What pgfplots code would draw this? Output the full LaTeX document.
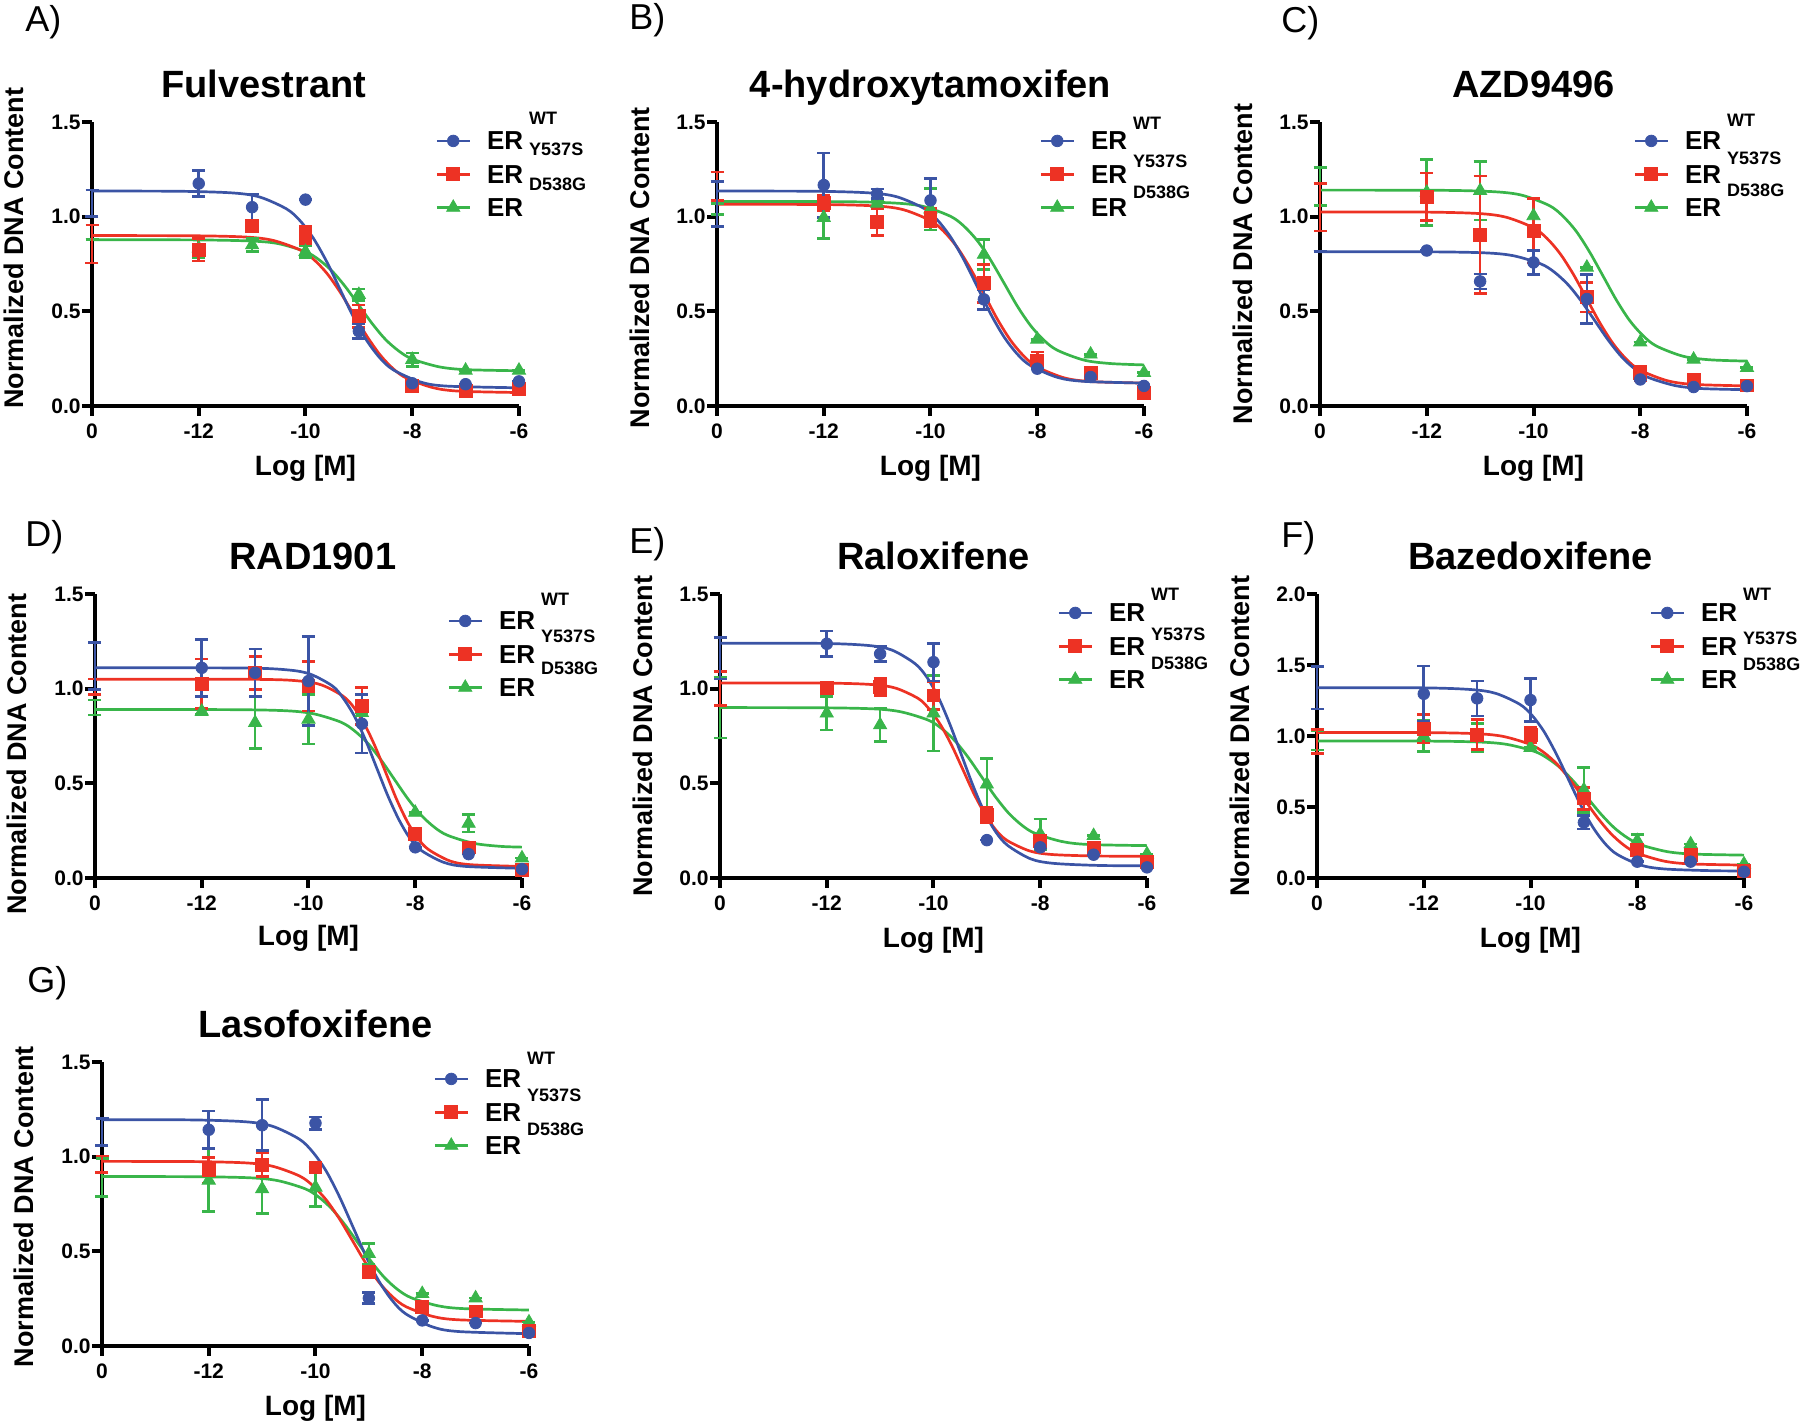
\documentclass[border=0pt]{standalone}
\usepackage{pgfplots}
\pgfplotsset{compat=1.18}
\usepackage{fontspec}
\setmainfont{Liberation Sans}

\definecolor{cblue}{RGB}{59,84,165}
\definecolor{cred}{RGB}{237,50,36}
\definecolor{cgreen}{RGB}{57,181,74}

% raised/lowered label next to "ER", takes no room in the legend
\newcommand{\sups}[2]{\smash{\rlap{\kern3pt\raisebox{#1}{\fontsize{9}{9}\selectfont #2}}}}

\pgfplotsset{
  panel/.style={
    scale only axis, width=213.5pt, height=142pt, anchor=south west,
    xmin=-14, xmax=-6, ymin=0, ymax=1.5,
    xtick={-14,-12,-10,-8,-6}, xticklabels={0,-12,-10,-8,-6},
    ytick={0,0.5,1,1.5},
    axis x line*=bottom, axis y line*=left,
    axis line style={line width=2pt, -},
    tick style={line width=2pt, black},
    tick align=outside, major tick length=5pt,
    clip=false,
    /pgf/number format/assume math mode=true,
    tick label style={font=\bfseries\fontsize{10.5}{10.5}\selectfont},
    xticklabel style={inner sep=0pt, yshift=-3.5pt},
    yticklabel style={inner sep=0pt, xshift=-0.5pt,
      /pgf/number format/.cd, fixed, fixed zerofill, precision=1},
    xlabel={Log [M]}, ylabel={Normalized DNA Content},
    every axis title/.style={at={(0.5,1)}, anchor=base, yshift=12pt,
      font=\bfseries\fontsize{19}{19}\selectfont},
    every axis x label/.style={at={(0.5,0)}, anchor=base, yshift=-35pt,
      font=\bfseries\fontsize{14}{14}\selectfont},
    every axis y label/.style={at={(0,0.5)}, xshift=-34pt, rotate=90, anchor=base,
      font=\bfseries\fontsize{13.5}{13.5}\selectfont},
    legend style={draw=none, fill=none, at={(0,0)}, anchor=north west,
      inner sep=0pt, row sep=7.7pt, column sep=8pt,
      font=\bfseries\fontsize{13}{13}\selectfont,
      nodes={inner sep=0pt, text depth=0pt}},
    legend cell align=left,
    legend image code/.code={\draw[mark repeat=2,mark phase=2]
      plot coordinates {(0pt,0pt) (8.25pt,0pt) (16.5pt,0pt)};},
  },
  cb/.style={cblue, mark=*, mark size=2.9pt, mark options={line width=0.4pt}},
  cr/.style={cred, mark=square*, mark size=3.2pt, mark options={line width=0.4pt}},
  cg/.style={cgreen, mark=triangle*, mark size=3.8pt, mark options={line width=0.4pt}},
  fit/.style={line width=1.35pt, smooth, mark=none, forget plot},
  pts/.style={only marks, forget plot, mark indices={2,3,4,5,6,7,8},
    error bars/.cd, y dir=both, y explicit,
    error bar style={line width=1.3pt},
    error mark options={rotate=90, line width=1.3pt, mark size=3.25pt}},
}

\newcommand{\erlegend}[3]{%
  \addlegendimage{cb, line width=1.35pt}
  \addlegendentry{ER\sups{#1}{WT}\sups{#2}{Y537S}}
  \addlegendimage{cr, line width=1.35pt}
  \addlegendentry{ER\sups{#3}{D538G}}
  \addlegendimage{cg, line width=1.35pt}
  \addlegendentry{ER}}

\begin{document}
\begin{tikzpicture}
\useasboundingbox (0,0) rectangle (900pt,711.5pt);

\node[anchor=base west, inner sep=0pt, font=\fontsize{18}{18}\selectfont] at (12.5pt,695.5pt) {A)};
\node[anchor=base west, inner sep=0pt, font=\fontsize{18}{18}\selectfont] at (314.5pt,696.5pt) {B)};
\node[anchor=base west, inner sep=0pt, font=\fontsize{18}{18}\selectfont] at (640.5pt,695pt) {C)};
\node[anchor=base west, inner sep=0pt, font=\fontsize{18}{18}\selectfont] at (12.5pt,438pt) {D)};
\node[anchor=base west, inner sep=0pt, font=\fontsize{18}{18}\selectfont] at (314.5pt,434.5pt) {E)};
\node[anchor=base west, inner sep=0pt, font=\fontsize{18}{18}\selectfont] at (640.5pt,437.5pt) {F)};
\node[anchor=base west, inner sep=0pt, font=\fontsize{18}{18}\selectfont] at (13.5pt,215pt) {G)};

% ---------------- A) Fulvestrant
\begin{axis}[panel, at={(46pt,508.5pt)}, title={Fulvestrant},
  title style={at={(0.402,1)}}, ylabel style={at={(0,0.556)}},
  legend style={xshift=171.5pt, yshift=137.2pt}]
\erlegend{12.9pt}{-2.8pt}{-3.6pt}
\addplot[cgreen, fit] coordinates {(-14,0.878) (-12,0.877) (-11,0.871) (-10.5,0.857) (-10,0.815) (-9.75,0.773) (-9.5,0.712) (-9.25,0.629) (-9,0.532) (-8.75,0.435) (-8.5,0.351) (-8.25,0.290) (-8,0.248) (-7.5,0.207) (-7,0.192) (-6,0.186)};
\addplot[cred, fit] coordinates {(-14,0.900) (-12.1,0.899) (-11.1,0.892) (-10.6,0.874) (-10.1,0.824) (-9.85,0.775) (-9.6,0.701) (-9.35,0.601) (-9.1,0.485) (-8.85,0.369) (-8.6,0.269) (-8.35,0.195) (-8.1,0.146) (-7.6,0.096) (-7.1,0.078) (-6,0.071)};
\addplot[cblue, fit] coordinates {(-14,1.135) (-12.35,1.134) (-11.35,1.125) (-10.85,1.103) (-10.35,1.040) (-10.1,0.978) (-9.85,0.885) (-9.6,0.761) (-9.35,0.615) (-9.1,0.469) (-8.85,0.345) (-8.6,0.252) (-8.35,0.190) (-7.85,0.127) (-7.35,0.105) (-6,0.096)};
\addplot[cg, pts] coordinates {(-14,0.878) +- (0,0) (-12,0.833) +- (0,0.05) (-11,0.85) +- (0,0.035) (-10,0.815) +- (0,0.03) (-9,0.588) +- (0,0.03) (-8,0.245) +- (0,0.035) (-7,0.188) +- (0,0) (-6,0.188) +- (0,0)};
\addplot[cr, pts] coordinates {(-14,0.856) +- (0,0.1) (-12,0.825) +- (0,0.06) (-11,0.95) +- (0,0.03) (-10,0.904) +- (0,0.045) (-9,0.474) +- (0,0.06) (-8,0.105) +- (0,0) (-7,0.08) +- (0,0) (-6,0.09) +- (0,0)};
\addplot[cb, pts] coordinates {(-14,1.07) +- (0,0.07) (-12,1.175) +- (0,0.07) (-11,1.05) +- (0,0.07) (-10,1.09) +- (0,0) (-9,0.395) +- (0,0.04) (-8,0.12) +- (0,0) (-7,0.115) +- (0,0) (-6,0.13) +- (0,0)};
\end{axis}

% ---------------- B) 4-hydroxytamoxifen
\begin{axis}[panel, at={(358.5pt,508.5pt)}, title={4-hydroxytamoxifen},
  ylabel style={at={(0,0.486)}},
  legend style={xshift=161pt, yshift=137.2pt}]
\erlegend{10.4pt}{-8.6pt}{-7.6pt}
\addplot[cgreen, fit] coordinates {(-14,1.080) (-11.62,1.079) (-10.62,1.071) (-10.12,1.053) (-9.62,1.001) (-9.37,0.949) (-9.12,0.872) (-8.87,0.769) (-8.62,0.648) (-8.37,0.526) (-8.12,0.423) (-7.87,0.346) (-7.62,0.294) (-7.12,0.242) (-6.62,0.224) (-6,0.217)};
\addplot[cred, fit] coordinates {(-14,1.065) (-12,1.064) (-11,1.056) (-10.5,1.036) (-10,0.979) (-9.75,0.922) (-9.5,0.838) (-9.25,0.725) (-9,0.593) (-8.75,0.460) (-8.5,0.347) (-8.25,0.263) (-8,0.206) (-7.5,0.149) (-7,0.129) (-6,0.121)};
\addplot[cblue, fit] coordinates {(-14,1.135) (-12.12,1.134) (-11.12,1.125) (-10.62,1.104) (-10.12,1.043) (-9.87,0.982) (-9.62,0.891) (-9.37,0.770) (-9.12,0.628) (-8.87,0.485) (-8.62,0.364) (-8.37,0.273) (-8.12,0.212) (-7.62,0.151) (-7.12,0.130) (-6,0.121)};
\addplot[cg, pts] coordinates {(-14,1.04) +- (0,0.03) (-12,0.995) +- (0,0.11) (-11,1.07) +- (0,0.02) (-10,1.04) +- (0,0.11) (-9,0.80) +- (0,0.08) (-8,0.352) +- (0,0) (-7,0.273) +- (0,0) (-6,0.176) +- (0,0)};
\addplot[cr, pts] coordinates {(-14,1.16) +- (0,0.076) (-12,1.074) +- (0,0.04) (-11,0.972) +- (0,0.07) (-10,0.995) +- (0,0.047) (-9,0.648) +- (0,0.1) (-8,0.241) +- (0,0.045) (-7,0.176) +- (0,0) (-6,0.07) +- (0,0)};
\addplot[cb, pts] coordinates {(-14,1.067) +- (0,0.12) (-12,1.167) +- (0,0.17) (-11,1.12) +- (0,0.025) (-10,1.086) +- (0,0.115) (-9,0.563) +- (0,0.053) (-8,0.197) +- (0,0) (-7,0.153) +- (0,0) (-6,0.106) +- (0,0)};
\end{axis}

% ---------------- C) AZD9496
\begin{axis}[panel, at={(660pt,508.5pt)}, title={AZD9496},
  legend style={xshift=156.5pt, yshift=137.2pt}]
\erlegend{11.9pt}{-7.1pt}{-6.6pt}
\addplot[cgreen, fit] coordinates {(-14,1.140) (-11.7,1.139) (-10.7,1.131) (-10.2,1.112) (-9.7,1.058) (-9.45,1.003) (-9.2,0.923) (-8.95,0.814) (-8.7,0.688) (-8.45,0.561) (-8.2,0.452) (-7.95,0.372) (-7.7,0.317) (-7.2,0.263) (-6.7,0.244) (-6,0.237)};
\addplot[cred, fit] coordinates {(-14,1.025) (-12,1.024) (-11,1.016) (-10.5,0.996) (-10,0.941) (-9.75,0.886) (-9.5,0.804) (-9.25,0.694) (-9,0.565) (-8.75,0.436) (-8.5,0.326) (-8.25,0.244) (-8,0.189) (-7.5,0.134) (-7,0.114) (-6,0.106)};
\addplot[cblue, fit] coordinates {(-14,0.815) (-11.85,0.814) (-10.85,0.808) (-10.35,0.792) (-9.85,0.749) (-9.6,0.705) (-9.35,0.640) (-9.1,0.552) (-8.85,0.450) (-8.6,0.348) (-8.35,0.260) (-8.1,0.195) (-7.85,0.151) (-7.35,0.108) (-6.85,0.092) (-6,0.086)};
\addplot[cg, pts] coordinates {(-14,1.16) +- (0,0.1) (-12,1.128) +- (0,0.175) (-11,1.137) +- (0,0.155) (-10,1.004) +- (0,0.09) (-9,0.732) +- (0,0) (-8,0.337) +- (0,0) (-7,0.246) +- (0,0) (-6,0.202) +- (0,0)};
\addplot[cr, pts] coordinates {(-14,1.05) +- (0,0.125) (-12,1.105) +- (0,0.125) (-11,0.904) +- (0,0.31) (-10,0.925) +- (0,0.17) (-9,0.575) +- (0,0.078) (-8,0.172) +- (0,0.04) (-7,0.137) +- (0,0) (-6,0.109) +- (0,0)};
\addplot[cb, pts] coordinates {(-14,0.815) +- (0,0) (-12,0.821) +- (0,0) (-11,0.658) +- (0,0.04) (-10,0.758) +- (0,0.062) (-9,0.565) +- (0,0.13) (-8,0.14) +- (0,0) (-7,0.10) +- (0,0) (-6,0.105) +- (0,0)};
\end{axis}

% ---------------- D) RAD1901
\begin{axis}[panel, at={(47.5pt,272.5pt)}, title={RAD1901},
  title style={at={(0.51,1)}}, ylabel style={at={(0,0.447)}, xshift=-1.5pt},
  xlabel style={yshift=1pt},
  legend style={xshift=176pt, yshift=133.2pt}]
\erlegend{12.4pt}{-6.3pt}{-5.6pt}
\addplot[cgreen, fit] coordinates {(-14,0.890) (-11.4,0.889) (-10.4,0.883) (-9.9,0.867) (-9.4,0.824) (-9.15,0.780) (-8.9,0.715) (-8.65,0.627) (-8.4,0.525) (-8.15,0.423) (-7.9,0.335) (-7.65,0.270) (-7.4,0.226) (-6.9,0.183) (-6.4,0.167) (-6,0.163)};
\addplot[cred, fit] coordinates {(-14,1.050) (-10.95,1.049) (-10.15,1.040) (-9.75,1.019) (-9.35,0.960) (-9.15,0.901) (-8.95,0.812) (-8.75,0.694) (-8.55,0.555) (-8.35,0.416) (-8.15,0.298) (-7.95,0.209) (-7.75,0.150) (-7.35,0.090) (-6.95,0.070) (-6,0.061)};
\addplot[cblue, fit] coordinates {(-14,1.110) (-11.22,1.109) (-10.39,1.099) (-9.97,1.077) (-9.55,1.014) (-9.35,0.950) (-9.14,0.855) (-8.93,0.728) (-8.72,0.580) (-8.51,0.432) (-8.30,0.305) (-8.10,0.210) (-7.89,0.146) (-7.47,0.083) (-7.05,0.061) (-6,0.051)};
\addplot[cg, pts] coordinates {(-14,0.90) +- (0,0.04) (-12,0.88) +- (0,0.015) (-11,0.82) +- (0,0.135) (-10,0.838) +- (0,0.13) (-9,0.873) +- (0,0) (-8,0.346) +- (0,0) (-7,0.288) +- (0,0.046) (-6,0.105) +- (0,0)};
\addplot[cr, pts] coordinates {(-14,1.01) +- (0,0.04) (-12,1.026) +- (0,0.13) (-11,1.083) +- (0,0.088) (-10,1.013) +- (0,0.13) (-9,0.908) +- (0,0.097) (-8,0.232) +- (0,0) (-7,0.162) +- (0,0) (-6,0.042) +- (0,0)};
\addplot[cb, pts] coordinates {(-14,1.12) +- (0,0.125) (-12,1.11) +- (0,0.15) (-11,1.084) +- (0,0.125) (-10,1.04) +- (0,0.235) (-9,0.815) +- (0,0.155) (-8,0.162) +- (0,0) (-7,0.126) +- (0,0) (-6,0.047) +- (0,0)};
\end{axis}

% ---------------- E) Raloxifene
\begin{axis}[panel, at={(360pt,272.5pt)}, title={Raloxifene},
  legend style={xshift=168.5pt, yshift=137.2pt}]
\erlegend{10.9pt}{-9.1pt}{-7.1pt}
\addplot[cgreen, fit] coordinates {(-14,0.900) (-12.1,0.899) (-11.1,0.893) (-10.6,0.877) (-10.1,0.834) (-9.85,0.790) (-9.6,0.725) (-9.35,0.637) (-9.1,0.535) (-8.85,0.433) (-8.6,0.345) (-8.35,0.280) (-8.1,0.236) (-7.6,0.193) (-7.1,0.177) (-6,0.171)};
\addplot[cred, fit] coordinates {(-14,1.030) (-11.95,1.029) (-11.12,1.021) (-10.70,1.002) (-10.28,0.947) (-10.08,0.892) (-9.87,0.810) (-9.66,0.701) (-9.45,0.573) (-9.24,0.444) (-9.03,0.335) (-8.83,0.253) (-8.62,0.198) (-8.20,0.143) (-7.78,0.124) (-6.95,0.116) (-6,0.115)};
\addplot[cblue, fit] coordinates {(-14,1.240) (-12.09,1.239) (-11.22,1.228) (-10.78,1.204) (-10.35,1.133) (-10.13,1.063) (-9.915,0.958) (-9.70,0.817) (-9.48,0.653) (-9.26,0.488) (-9.045,0.347) (-8.83,0.242) (-8.61,0.172) (-8.18,0.101) (-7.74,0.077) (-6.87,0.066) (-6,0.065)};
\addplot[cg, pts] coordinates {(-14,0.90) +- (0,0.16) (-12,0.87) +- (0,0.088) (-11,0.808) +- (0,0.088) (-10,0.87) +- (0,0.2) (-9,0.495) +- (0,0.135) (-8,0.232) +- (0,0.08) (-7,0.223) +- (0,0) (-6,0.126) +- (0,0)};
\addplot[cr, pts] coordinates {(-14,1.0) +- (0,0.09) (-12,1.005) +- (0,0) (-11,1.01) +- (0,0.045) (-10,0.964) +- (0,0.075) (-9,0.332) +- (0,0.04) (-8,0.197) +- (0,0) (-7,0.162) +- (0,0) (-6,0.083) +- (0,0)};
\addplot[cb, pts] coordinates {(-14,1.16) +- (0,0.11) (-12,1.237) +- (0,0.068) (-11,1.184) +- (0,0.04) (-10,1.14) +- (0,0.1) (-9,0.20) +- (0,0) (-8,0.162) +- (0,0) (-7,0.123) +- (0,0) (-6,0.056) +- (0,0)};
\end{axis}

% ---------------- F) Bazedoxifene
\begin{axis}[panel, at={(658.5pt,272.5pt)}, title={Bazedoxifene},
  ymax=2, ytick={0,0.5,1,1.5,2},
  legend style={xshift=166pt, yshift=137.2pt}]
\erlegend{10.9pt}{-11.1pt}{-7.6pt}
\addplot[cgreen, fit] coordinates {(-14,0.965) (-11.93,0.964) (-10.93,0.957) (-10.43,0.940) (-9.93,0.892) (-9.68,0.843) (-9.43,0.772) (-9.18,0.675) (-8.93,0.563) (-8.68,0.450) (-8.43,0.353) (-8.18,0.282) (-7.93,0.233) (-7.43,0.185) (-6.93,0.168) (-6,0.161)};
\addplot[cred, fit] coordinates {(-14,1.025) (-12,1.024) (-11,1.016) (-10.5,0.996) (-10,0.940) (-9.75,0.884) (-9.5,0.801) (-9.25,0.688) (-9,0.558) (-8.75,0.427) (-8.5,0.315) (-8.25,0.231) (-8,0.175) (-7.5,0.119) (-7,0.099) (-6,0.091)};
\addplot[cblue, fit] coordinates {(-14,1.340) (-12.02,1.339) (-11.11,1.327) (-10.65,1.300) (-10.20,1.223) (-9.97,1.145) (-9.745,1.030) (-9.52,0.876) (-9.29,0.695) (-9.06,0.514) (-8.835,0.360) (-8.61,0.245) (-8.38,0.167) (-7.93,0.090) (-7.47,0.063) (-6.56,0.051) (-6,0.050)};
\addplot[cg, pts] coordinates {(-14,0.97) +- (0,0.07) (-12,1.0) +- (0,0.11) (-11,0.99) +- (0,0.1) (-10,0.918) +- (0,0) (-9,0.62) +- (0,0.16) (-8,0.262) +- (0,0.045) (-7,0.239) +- (0,0) (-6,0.098) +- (0,0)};
\addplot[cr, pts] coordinates {(-14,0.96) +- (0,0.085) (-12,1.05) +- (0,0.1) (-11,1.01) +- (0,0.105) (-10,1.005) +- (0,0.053) (-9,0.56) +- (0,0.076) (-8,0.199) +- (0,0) (-7,0.162) +- (0,0) (-6,0.052) +- (0,0)};
\addplot[cb, pts] coordinates {(-14,1.34) +- (0,0.15) (-12,1.297) +- (0,0.195) (-11,1.265) +- (0,0.123) (-10,1.253) +- (0,0.15) (-9,0.391) +- (0,0.047) (-8,0.115) +- (0,0) (-7,0.115) +- (0,0) (-6,0.044) +- (0,0)};
\end{axis}

% ---------------- G) Lasofoxifene
\begin{axis}[panel, at={(51pt,38.5pt)}, title={Lasofoxifene},
  ylabel style={at={(0,0.49)}},
  legend style={xshift=165.5pt, yshift=138.2pt}]
\erlegend{11.9pt}{-6.6pt}{-7.1pt}
\addplot[cgreen, fit] coordinates {(-14,0.895) (-12.2,0.894) (-11.2,0.888) (-10.7,0.873) (-10.2,0.831) (-9.95,0.789) (-9.7,0.726) (-9.45,0.641) (-9.2,0.543) (-8.95,0.444) (-8.7,0.359) (-8.45,0.296) (-8.2,0.254) (-7.7,0.212) (-7.2,0.197) (-6,0.190)};
\addplot[cred, fit] coordinates {(-14,0.975) (-12.3,0.974) (-11.3,0.967) (-10.8,0.949) (-10.3,0.898) (-10.05,0.847) (-9.8,0.772) (-9.55,0.671) (-9.3,0.553) (-9.05,0.434) (-8.8,0.333) (-8.55,0.258) (-8.3,0.207) (-7.8,0.156) (-7.3,0.138) (-6,0.130)};
\addplot[cblue, fit] coordinates {(-14,1.195) (-12.3,1.194) (-11.3,1.184) (-10.8,1.160) (-10.3,1.092) (-10.05,1.024) (-9.8,0.924) (-9.55,0.788) (-9.3,0.630) (-9.05,0.472) (-8.8,0.337) (-8.55,0.236) (-8.3,0.168) (-7.8,0.100) (-7.3,0.076) (-6,0.065)};
\addplot[cg, pts] coordinates {(-14,0.89) +- (0,0.1) (-12,0.875) +- (0,0.165) (-11,0.829) +- (0,0.13) (-10,0.838) +- (0,0.1) (-9,0.487) +- (0,0.055) (-8,0.276) +- (0,0) (-7,0.253) +- (0,0) (-6,0.126) +- (0,0)};
\addplot[cr, pts] coordinates {(-14,0.96) +- (0,0.044) (-12,0.929) +- (0,0.068) (-11,0.957) +- (0,0.062) (-10,0.943) +- (0,0) (-9,0.39) +- (0,0) (-8,0.206) +- (0,0) (-7,0.183) +- (0,0) (-6,0.079) +- (0,0)};
\addplot[cb, pts] coordinates {(-14,1.13) +- (0,0.07) (-12,1.142) +- (0,0.1) (-11,1.166) +- (0,0.135) (-10,1.177) +- (0,0.033) (-9,0.253) +- (0,0.029) (-8,0.135) +- (0,0) (-7,0.121) +- (0,0) (-6,0.069) +- (0,0)};
\end{axis}
\end{tikzpicture}
\end{document}
